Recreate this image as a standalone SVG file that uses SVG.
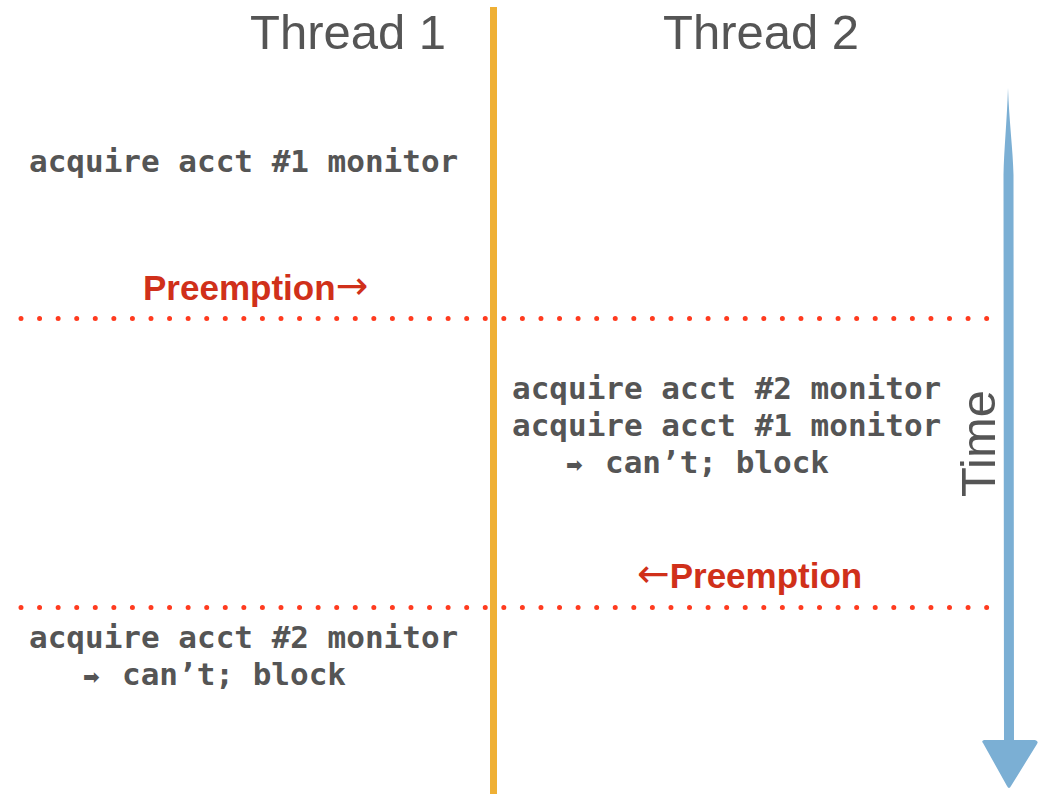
<svg xmlns="http://www.w3.org/2000/svg" width="1045" height="794" viewBox="0 0 1045 794">
<style>
.title{font-family:"Liberation Sans",Arial,sans-serif;font-size:49px;fill:#555555}
.code{font-family:"DejaVu Sans Mono","Liberation Mono",monospace;font-size:31px;font-weight:bold;fill:#555555;white-space:pre}
.arr{font-family:"DejaVu Sans",sans-serif;font-size:20px;font-weight:bold;fill:#555555}
.pre{font-family:"Liberation Sans",Arial,sans-serif;font-size:35px;font-weight:bold;fill:#D0301A}
.parr{font-family:"DejaVu Sans",sans-serif;font-size:39px;font-weight:normal;fill:#D0301A}
.dots{stroke:#FF3B1F;stroke-width:5;stroke-linecap:round;stroke-dasharray:0 18.57;fill:none}
</style>
<rect width="1045" height="794" fill="#ffffff"/>
<g id="divider">
<rect x="490" y="7" width="7" height="787" fill="#EFB035"/>
</g>
<g id="thread1-title"><text class="title" x="250" y="49">Thread 1</text></g>
<g id="thread2-title"><text class="title" x="663" y="49">Thread 2</text></g>
<g id="connectors">
<path class="dots" d="M21 318.5 H987"/>
<path class="dots" d="M21 607.5 H987"/>
<path d="M1008 88 C1009 120 1013 150 1013.5 175 L1014 745 L1004 745 L1003.5 175 C1004 150 1007 120 1008 88 Z" fill="#7BAFD4"/>
<path d="M983 743 Q981 741 984 740 L1035 740 Q1039 741 1037 744 L1011 786 Q1009 790 1007 786 Z" fill="#7BAFD4"/>
</g>
<g id="time-label"><text class="title" transform="translate(995,497) rotate(-90)" x="0" y="0">Time</text></g>
<g id="preempt1"><text class="pre" x="143" y="300">Preemption<tspan class="parr" dy="-1">→</tspan></text></g>
<g id="preempt2"><text class="pre" x="637" y="588"><tspan class="parr" dy="-1">←</tspan><tspan dy="1">Preemption</tspan></text></g>
<g id="t1-acquire1"><text class="code" x="29" y="172">acquire acct #1 monitor</text></g>
<g id="t2-block">
<text class="code" x="512" y="399">acquire acct #2 monitor</text>
<text class="code" x="512" y="436">acquire acct #1 monitor</text>
<text class="code" y="472.5"><tspan class="arr" x="566" dy="-1">➡</tspan><tspan x="605" dy="1">can’t; block</tspan></text>
</g>
<g id="t1-block">
<text class="code" x="29" y="648">acquire acct #2 monitor</text>
<text class="code" y="684.5"><tspan class="arr" x="83" dy="-1">➡</tspan><tspan x="122" dy="1">can’t; block</tspan></text>
</g>
</svg>
